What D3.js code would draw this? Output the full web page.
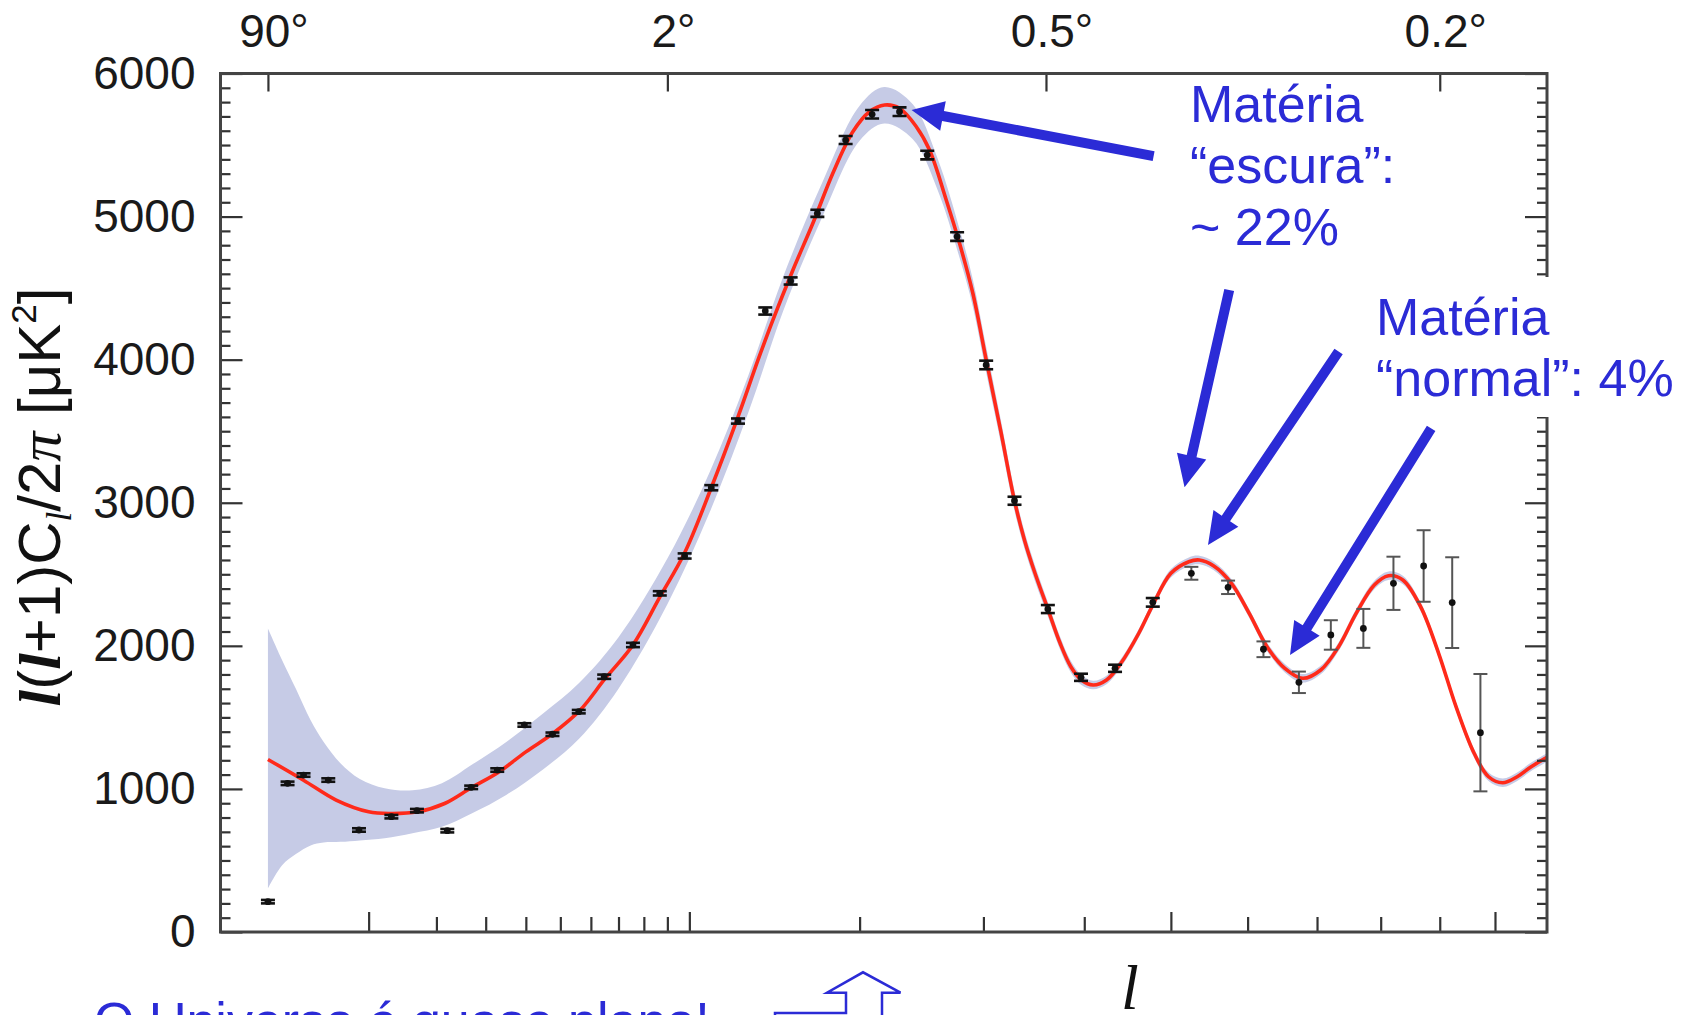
<!DOCTYPE html>
<html><head><meta charset="utf-8">
<script src="https://cdn.jsdelivr.net/npm/d3@7"></script>
<style>body{margin:0;background:#fff}svg{display:block;background:#fff}</style>
</head><body>
<svg id="c" width="1695" height="1015"></svg>
<script>
// ---------- data ----------
const curveL = [2,4,6.6,10,12.7,16.8,21.5,26.9,33.1,40,47.7,56.4,65,75.6,86.7,97.8,110.6,124.4,135.4,143.9,155.9,168.4,181.5,195.2,207.1,218.2,229.6,242.8,253.5,267.4,278.8,290.5,302.5,316,329,338.6,349,361.9,374.5,385.7,397,409.6,424.4,440.6,461.4,478,500,522.4,535.9,554.6,578,602.2,627,652.5,678.6,705.6,733,760.5,789.6,812.8,836.7,866.8,898,928.8,961.5,988,1014.5,1042,1069,1100];
const curveV = [1206,1061,922,840,828,840,898,1010,1119,1259,1387,1551,1770,2006,2340,2650,3105,3600,3998,4277,4627,4953,5303,5593,5733,5780,5757,5628,5465,5116,4813,4464,4000,3500,3014,2740,2507,2257,2018,1854,1761,1726,1761,1878,2088,2285,2507,2588,2600,2558,2437,2227,1994,1843,1773,1831,1994,2227,2425,2490,2460,2274,1948,1575,1249,1085,1043,1085,1155,1220];

const bandL  = [2,2.7,3.5,4.5,5.5,7,9,12,16,21,27,35,45,56,70,90,110,130,150,175,200,218,240,260,280,290.5,302.5,316,329,338.6,349,361.9,374.5,385.7,397,409.6,424.4,440.6,461.4,478,500,522.4,535.9,554.6,578,602.2,627,652.5,678.6,705.6,733,760.5,789.6,812.8,836.7,866.8,898,928.8,961.5,988,1014.5,1042,1069,1100];
const bandLo = [304,467,545,605,625,630,640,655,690,735,830,960,1140,1350,1700,2290,2940,3630,4340,5010,5530,5650,5540,5190,4680,4370,3910,3420,2944,2680,2452,2207,1973,1814,1726,1696,1731,1848,2058,2255,2477,2558,2570,2528,2407,2197,1964,1813,1743,1801,1964,2197,2395,2460,2430,2244,1918,1545,1219,1055,1013,1055,1125,1190];
const bandHi = [2121,1900,1700,1480,1330,1180,1070,1005,990,1040,1170,1330,1530,1740,2060,2610,3220,3890,4580,5250,5775,5905,5785,5410,4880,4560,4090,3580,3084,2800,2562,2307,2063,1894,1796,1756,1791,1908,2118,2315,2537,2618,2630,2588,2467,2257,2024,1873,1803,1861,2024,2257,2455,2520,2490,2304,1978,1605,1279,1115,1073,1115,1185,1250];

const pointL   = [2,3,4,5.9,8.9,12.9,16.7,22,26.8,32.7,39.6,47.6,55.9,64.7,75.6,86.7,97.8,110.6,124.4,139.5,154.5,171.3,190.2,209,229.6,251.6,276.7,302.5,329,361.9,396.5,434,478,525.6,573.5,622,673,721,772,821,872,922,973];
const pointV   = [212,1039,1097,1062,713,806,848,708,1011,1132,1447,1382,1540,1784,2006,2367,2628,3105,3571,4340,4550,5023,5535,5715,5733,5430,4860,3963,3014,2257,1780,1843,2304,2507,2409,1976,1745,2076,2122,2437,2558,2302,1393];
const pointErr = [12,12,12,12,12,12,12,12,12,12,12,12,12,15,15,15,18,18,18,25,25,25,28,30,30,30,30,30,28,28,25,25,30,45,47,55,75,103,136,186,250,317,410];

const yTicks = [0,1000,2000,3000,4000,5000,6000];
const xMajorTicks = [10,100,500,1000];
const xMinorTicks = [20,30,40,50,60,70,80,90,200,300,400,600,700,800,900];
const topTickL = [2,90,360,900];
const topTickLabels = ["90°","2°","0.5°","0.2°"];

// annotation arrows in data coordinates [l, value]
const arrowFrom = [[479,5423],[575,4487],[733,4057],[885,3520]];
const arrowTo   = [[239,5745],[517,3108],[547,2705],[660,1936]];

// ---------- drawing ----------
const svg = d3.select("#c");
const L = 220.5, R = 1547, T = 73.5, B = 932;
const x = d3.scalePow().exponent(0.4).domain([0.5, 1100]).range([L, R]);
const y = d3.scaleLinear().domain([0, 6000]).range([B, T]);
const FONT = "'Liberation Sans', Arial, Helvetica, sans-serif";
const SERIF = "'Liberation Serif', 'Times New Roman', serif";
const BLUE = "#2b2bd6";

svg.append("defs").append("clipPath").attr("id","clip")
  .append("rect").attr("x",L).attr("y",T).attr("width",R-L).attr("height",B-T);

const plot = svg.append("g").attr("clip-path","url(#clip)");

// cosmic variance band
const bandData = bandL.map((l,i)=>({l, lo:bandLo[i], hi:bandHi[i]}));
plot.append("path").datum(bandData)
  .attr("d", d3.area().x(d=>x(d.l)).y0(d=>y(d.lo)).y1(d=>y(d.hi)).curve(d3.curveCatmullRom.alpha(0.5)))
  .attr("fill","#c6cbe6");

// model curve
const curveData = curveL.map((l,i)=>({l, v:curveV[i]}));
plot.append("path").datum(curveData)
  .attr("d", d3.line().x(d=>x(d.l)).y(d=>y(d.v)).curve(d3.curveCatmullRom.alpha(0.5)))
  .attr("fill","none").attr("stroke","#ff2a1a").attr("stroke-width",3.6);

// data points with error bars
const pts = pointL.map((l,i)=>({l, v:pointV[i], e:pointErr[i], i}));
const pg = plot.append("g").selectAll("g").data(pts).join("g")
  .attr("transform", d=>`translate(${x(d.l)},0)`);
const barCol = d => d.i >= 33 ? "#555" : "#111";
pg.append("line").attr("x1",0).attr("x2",0)
  .attr("y1", d=>y(d.v-d.e)).attr("y2", d=>y(d.v+d.e))
  .attr("stroke", barCol).attr("stroke-width", 2);
pg.append("line").attr("x1",-7).attr("x2",7)
  .attr("y1", d=>y(d.v+d.e)).attr("y2", d=>y(d.v+d.e))
  .attr("stroke", barCol).attr("stroke-width", d=>d.i>=33?2:2.6);
pg.append("line").attr("x1",-7).attr("x2",7)
  .attr("y1", d=>y(d.v-d.e)).attr("y2", d=>y(d.v-d.e))
  .attr("stroke", barCol).attr("stroke-width", d=>d.i>=33?2:2.6);
pg.append("circle").attr("cx",0).attr("cy", d=>y(d.v)).attr("r",3.4).attr("fill","#111");

// axes
function styleAxis(g){
  g.select(".domain").remove();
  g.selectAll(".tick line").attr("stroke","#333").attr("stroke-width",2.2);
  g.selectAll(".tick text").attr("font-size",46).attr("font-family",FONT).attr("fill","#1a1a1a");
}
const yMinor = d3.range(0,6001,100).filter(v=>v%1000!==0);
svg.append("g").attr("transform",`translate(${L},0)`)
  .call(d3.axisLeft(y).tickValues(yMinor).tickSize(-10).tickFormat("")).call(styleAxis);
svg.append("g").attr("transform",`translate(${L},0)`)
  .call(d3.axisLeft(y).tickValues(yTicks).tickSize(-22).tickPadding(25).tickFormat(d3.format("d"))).call(styleAxis);
svg.append("g").attr("transform",`translate(${R},0)`)
  .call(d3.axisRight(y).tickValues(yMinor).tickSize(-10).tickFormat("")).call(styleAxis);
svg.append("g").attr("transform",`translate(${R},0)`)
  .call(d3.axisRight(y).tickValues(yTicks).tickSize(-22).tickFormat("")).call(styleAxis);
svg.append("g").attr("transform",`translate(0,${B})`)
  .call(d3.axisBottom(x).tickValues(xMinorTicks).tickSize(-15).tickFormat("")).call(styleAxis);
svg.append("g").attr("transform",`translate(0,${B})`)
  .call(d3.axisBottom(x).tickValues(xMajorTicks).tickSize(-20).tickFormat("")).call(styleAxis);
const topAx = svg.append("g").attr("transform",`translate(0,${T})`)
  .call(d3.axisTop(x).tickValues(topTickL).tickSize(-18).tickPadding(27).tickFormat((d,i)=>topTickLabels[i]))
  .call(styleAxis);
topAx.selectAll(".tick text").attr("dx","0.12em");

// frame
svg.append("rect").attr("x",L).attr("y",T).attr("width",R-L).attr("height",B-T)
  .attr("fill","none").attr("stroke","#444").attr("stroke-width",3);

// y-axis label
const yl = svg.append("text").attr("transform","translate(60,497) rotate(-90)")
  .attr("text-anchor","middle").attr("font-size",60).attr("font-family",FONT).attr("fill","#111");
yl.append("tspan").attr("font-family",SERIF).attr("font-weight","bold").attr("font-style","italic").text("l");
yl.append("tspan").text("(");
yl.append("tspan").attr("font-family",SERIF).attr("font-weight","bold").attr("font-style","italic").text("l");
yl.append("tspan").text("+1)C");
yl.append("tspan").attr("font-size",35).attr("dy",11).attr("font-family",SERIF).attr("font-style","italic").text("l");
yl.append("tspan").attr("dy",-11).text("/2");
yl.append("tspan").attr("font-family",SERIF).attr("font-style","italic").text("π");
yl.append("tspan").text(" [μK");
yl.append("tspan").attr("font-size",35).attr("dy",-24).text("2");
yl.append("tspan").attr("dy",24).text("]");

// x-axis label
svg.append("text").attr("x",1121).attr("y",1009).attr("font-family",SERIF).attr("font-style","italic")
  .attr("font-size",64).attr("fill","#111").text("l");

// white box behind second annotation (hides frame there)
svg.append("rect").attr("x",1372).attr("y",277).attr("width",320).attr("height",140).attr("fill","#fff");

// annotation texts
function txt(s,xp,yp){ svg.append("text").attr("x",xp).attr("y",yp).attr("font-family",FONT)
  .attr("font-size",52).attr("fill",BLUE).text(s); }
txt("Matéria",1190,122);
txt("“escura”:",1190,183);
txt("~ 22%",1190,245);
txt("Matéria",1376,335);
txt("“normal”: 4%",1376,396);

// arrows
function arrowPts(x1,y1,x2,y2,w,hl,hw){
  const dx=x2-x1, dy=y2-y1, len=Math.hypot(dx,dy), ux=dx/len, uy=dy/len, px=-uy, py=ux;
  const bx=x2-ux*hl, by=y2-uy*hl;
  return [[x1+px*w/2,y1+py*w/2],[bx+px*w/2,by+py*w/2],[bx+px*hw/2,by+py*hw/2],[x2,y2],
          [bx-px*hw/2,by-py*hw/2],[bx-px*w/2,by-py*w/2],[x1-px*w/2,y1-py*w/2]];
}
arrowFrom.forEach((f,i)=>{
  const t = arrowTo[i];
  svg.append("polygon")
    .attr("points", arrowPts(x(f[0]),y(f[1]),x(t[0]),y(t[1]),10,32,30).map(p=>p.join(",")).join(" "))
    .attr("fill",BLUE);
});

// bottom caption (cut by the page edge, as in the reference)
svg.append("text").attr("x",94).attr("y",1039).attr("font-family",FONT).attr("font-size",52)
  .attr("fill",BLUE).text("O Universo é quase plano!");
svg.append("path")
  .attr("d","M775,1013 L846,1013 L846,992.7 L827,992.7 L863,972.3 L900.5,992.7 L882,992.7 L882,1040 L775,1040 Z")
  .attr("fill","#fff").attr("stroke",BLUE).attr("stroke-width",2.5);
</script>
</body></html>
